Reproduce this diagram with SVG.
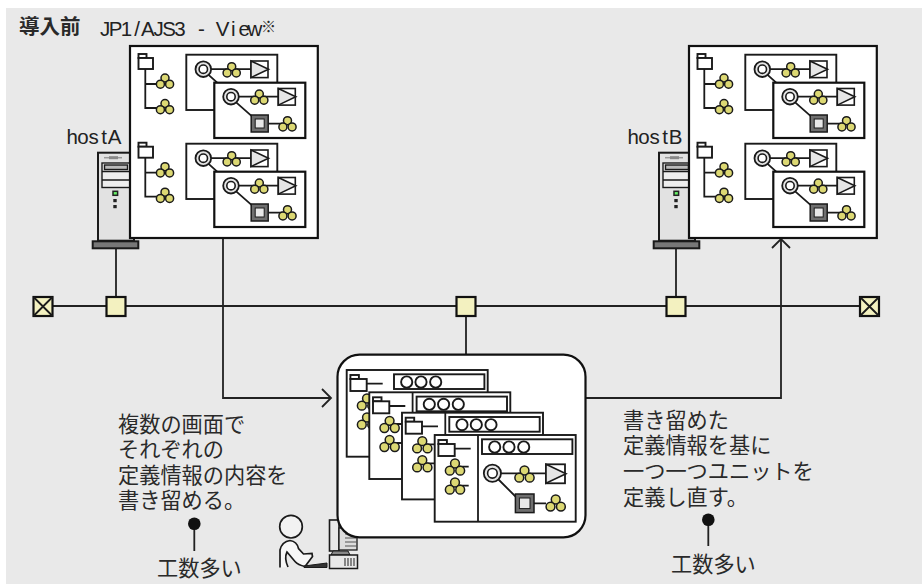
<svg xmlns="http://www.w3.org/2000/svg" xmlns:xlink="http://www.w3.org/1999/xlink" width="922" height="584" viewBox="0 0 922 584">
<style>
.s{fill:none;stroke:#1a1a1a;stroke-width:1.8}
.m{fill:none;stroke:#1a1a1a;stroke-width:1.8}
.c{stroke:#222;stroke-width:1.8;fill:none}
.w{fill:#fff;stroke:#1a1a1a;stroke-width:1.9}
.w2{fill:#fff;stroke:#111;stroke-width:2.2}
.y{fill:#dcd873;stroke:#1a1a1a;stroke-width:1.5}
.b{fill:#f3f1c0;stroke:#111;stroke-width:2.2}
.t{font-family:"Noto Sans CJK JP","Noto Sans",sans-serif;font-size:21.2px;fill:#2a2a2a;font-weight:400}
.e{font-family:"Liberation Sans",Arial,sans-serif;font-size:20.5px;fill:#222;text-anchor:middle}
</style>
<defs>
<g id="cl"><circle class="y" cx="0" cy="-4" r="4"/><circle class="y" cx="-4.6" cy="2.2" r="4"/><circle class="y" cx="4.6" cy="2.2" r="4"/></g>
<g id="cl2"><circle class="y" cx="0" cy="-3.5" r="4.4"/><circle class="y" cx="-5.2" cy="3.7" r="4.4"/><circle class="y" cx="5.2" cy="3.7" r="4.4"/></g>
<g id="fold"><rect class="w" x="0" y="-4" width="8" height="4"/><rect class="w" x="0" y="0" width="14.5" height="11"/></g>
<g id="ring"><circle fill="#e4e4e4" stroke="#1a1a1a" stroke-width="1.8" r="7.8"/><circle fill="#fff" stroke="#1a1a1a" stroke-width="1.6" r="4.2"/></g>
<g id="tri"><rect fill="#fff" stroke="#1a1a1a" stroke-width="1.6" x="0" y="0" width="17" height="16.6"/><path fill="#e6e6e6" stroke="#1a1a1a" stroke-width="1.6" d="M0,0L17.5,8.3L0,16.6Z"/></g>
<g id="sq"><rect fill="#6f6f6f" stroke="#1a1a1a" stroke-width="1.5" x="0" y="0" width="17" height="17"/><rect fill="#e8e8e8" stroke="#1a1a1a" stroke-width="1" x="4" y="4" width="9" height="9"/></g>
<g id="job">
<rect class="w" x="0" y="0" width="91" height="55.3"/>
<path class="s" d="M17,14.5H65M22,20L32,29"/>
<use xlink:href="#ring" x="17" y="14.5"/><use xlink:href="#cl" x="45.4" y="16"/><use xlink:href="#tri" x="64.7" y="6.3"/>
<rect class="w2" x="28" y="28" width="91" height="55.3"/>
<path class="s" d="M44.7,42H92M49,47L66,62M81,69H100"/>
<use xlink:href="#ring" x="44.7" y="42"/><use xlink:href="#cl" x="73" y="43.3"/><use xlink:href="#tri" x="92" y="33.8"/>
<use xlink:href="#sq" x="64.9" y="60.3"/><use xlink:href="#cl" x="101.2" y="70"/>
</g>
<g id="tree">
<path class="m" d="M15.3,10V62H27M15.3,38H27"/>
<use xlink:href="#fold" x="8.5" y="12"/>
<use xlink:href="#cl" x="35" y="36"/><use xlink:href="#cl" x="35" y="61.5"/>
</g>
<g id="panel">
<rect class="w2" x="0" y="0" width="187.8" height="192"/>
<use xlink:href="#tree"/><use xlink:href="#job" x="56.3" y="8.7"/>
<use xlink:href="#tree" y="88.7"/><use xlink:href="#job" x="56.3" y="97.7"/>
</g>
<g id="server">
<rect fill="#e2e2e2" stroke="#1a1a1a" stroke-width="2" x="98" y="152.7" width="36" height="88"/>
<path stroke="#999" stroke-width="1.5" d="M104,157.7H122"/>
<path stroke="#888" stroke-width="3" d="M109,157.7H118"/>
<rect fill="#eee" stroke="#1a1a1a" stroke-width="1.4" x="102" y="163" width="30" height="24.5"/>
<path fill="none" stroke="#1a1a1a" stroke-width="1.4" d="M102,171.5H132M102,180H132"/>
<rect fill="#bbb" stroke="#1a1a1a" stroke-width="1.4" x="104.5" y="165" width="23" height="4.5"/>
<rect fill="#6e6" stroke="#222" stroke-width="1.5" x="113" y="191.3" width="4.6" height="4"/>
<rect fill="#222" x="113.3" y="199" width="3.4" height="3.2"/><rect fill="#222" x="113.3" y="205" width="3.4" height="3.2"/>
<rect fill="#777" stroke="#1a1a1a" stroke-width="2" x="92.7" y="241.3" width="45.6" height="7"/>
</g>
<g id="win">
<rect class="w" x="0" y="0" width="141" height="86.7"/>
<rect class="w" x="47.3" y="4.3" width="90.4" height="14.7"/>
<circle class="w" cx="60" cy="12" r="5.6"/><circle class="w" cx="74.3" cy="12" r="5.6"/><circle class="w" cx="89" cy="12" r="5.6"/>
<path class="s" d="M20,13.7H36M20,31.7H34M20,50.7H34"/>
<rect class="w" x="3.7" y="5" width="8.5" height="4"/><rect class="w" x="3.7" y="9" width="16.3" height="12"/>
<use xlink:href="#cl2" x="20.3" y="32"/><use xlink:href="#cl2" x="20.3" y="51"/>
</g>
<path id="div" class="s" d="M43.3,0V86.7"/>
</defs>
<rect x="6" y="8" width="916" height="576" fill="#e9e9e9"/>
<text class="t" x="19" y="34" style="font-weight:700;font-size:20.5px">導入前</text>
<text class="e" y="35.5" x="105 115.7 126.4 137.1 147.8 158.5 169.2 179.9 190.6 201.3 212 222.7 233.4 244.1 254.8" xml:space="preserve">JP1/AJS3 - View</text>
<text class="t" x="261" y="32" style="font-size:15px">※</text>
<g id="connectors">
<path class="c" d="M43,306H869M116,248V306M676,248V306M466,306V355M223,238V398H331M585,398H781V239"/>
<path class="c" d="M322,389L331,398L322,407M772,248L781,239L790,248"/>
<path class="c" d="M194.3,524V551M708.3,520V546"/>
<circle cx="194.3" cy="523.7" r="6.3" fill="#111"/><circle cx="708.3" cy="519.7" r="6.3" fill="#111"/>
</g>
<g id="hostA"><text class="e" x="72.3 82.9 93.5 104.1 114.7" y="143.5">hostA</text><use xlink:href="#server"/><use xlink:href="#panel" x="130" y="46"/></g>
<g id="hostB"><text class="e" x="633.3 643.9 654.5 665.1 675.7" y="143.5">hostB</text><use xlink:href="#server" x="561"/><use xlink:href="#panel" x="689" y="46"/></g>
<g id="nw-term-l"><rect class="b" x="33.5" y="297" width="19" height="19"/><path class="s" d="M33.5,297L52.5,316M52.5,297L33.5,316"/></g>
<g id="nw-term-r"><rect class="b" x="860" y="297" width="19" height="19"/><path class="s" d="M860,297L879,316M879,297L860,316"/></g>
<g id="nw-1"><rect class="b" x="106.5" y="297" width="19" height="19"/></g>
<g id="nw-2"><rect class="b" x="456.5" y="297" width="19" height="19"/></g>
<g id="nw-3"><rect class="b" x="666.5" y="297" width="19" height="19"/></g>
<g id="user">
<circle cx="291" cy="526.7" r="11.3" fill="#f2f2f2" stroke="#1a1a1a" stroke-width="1.7"/>
<path fill="#f7f7f7" stroke="#1a1a1a" stroke-width="1.7" d="M280,567.5V550Q282,541.5 290,540.5Q297,541.5 298.5,548.5L303.5,554L312,553.5L312.5,556.5L305,566.5Q298,565 295,561.5L287,552Q284,558 288,567"/>
<path fill="#333" stroke="#1a1a1a" stroke-width="1" d="M304,566L327,563V567.5H304Z"/>
<rect fill="#e8e8e8" stroke="#1a1a1a" stroke-width="1.6" x="329.5" y="520" width="9.5" height="31"/>
<rect fill="#ddd" stroke="#1a1a1a" stroke-width="1.3" x="339" y="528" width="18" height="22"/>
<path stroke="#555" stroke-width="1.2" d="M345,534H357M345,538H357M345,542H357M345,546H357"/>
<path fill="#888" stroke="#1a1a1a" d="M333,551H348L350,555H331Z"/>
<rect fill="#e8e8e8" stroke="#1a1a1a" stroke-width="1.5" x="329.5" y="555" width="28" height="13.5"/>
<path stroke="#333" stroke-width="1.1" d="M345,558V566M348,558V566M351,558V566M354,558V566"/>
</g>
<g id="screen">
<rect class="w2" x="337.5" y="354.7" width="248" height="182.6" rx="22"/>
<use xlink:href="#win" x="346.7" y="370"/>
<use xlink:href="#win" x="369.3" y="392.3"/><use xlink:href="#div" x="369.3" y="392.3"/>
<use xlink:href="#win" x="402" y="412.7"/><use xlink:href="#div" x="402" y="412.7"/>
<use xlink:href="#win" x="434.7" y="435"/><use xlink:href="#div" x="434.7" y="435"/>
<path class="s" d="M500,473.3H546M498,479L516,497M533,503.3H546"/>
<g transform="translate(492.4,473.3)"><circle fill="#e4e4e4" stroke="#1a1a1a" stroke-width="1.8" r="8.6"/><circle fill="#fff" stroke="#1a1a1a" stroke-width="1.6" r="4.8"/></g>
<use xlink:href="#cl2" x="524.5" y="474"/>
<g transform="translate(546,464.3)"><rect fill="#fff" stroke="#1a1a1a" stroke-width="1.8" width="19" height="19"/><path fill="#e6e6e6" stroke="#1a1a1a" stroke-width="1.6" d="M0,0L20,9.5L0,19Z"/></g>
<g transform="translate(515.4,494)"><rect fill="#6f6f6f" stroke="#1a1a1a" stroke-width="1.5" width="18.6" height="18.6"/><rect fill="#e8e8e8" stroke="#1a1a1a" x="4" y="4" width="10.6" height="10.6"/></g>
<use xlink:href="#cl2" x="555.7" y="503"/>
</g>
<g id="labels">
<text class="t" x="118" y="431.5">複数の画面で</text>
<text class="t" x="118" y="457">それぞれの</text>
<text class="t" x="118" y="482.6">定義情報の内容を</text>
<text class="t" x="118" y="508">書き留める。</text>
<text class="t" x="157" y="575.5">工数多い</text>
<text class="t" x="623" y="427.5">書き留めた</text>
<text class="t" x="623" y="453">定義情報を基に</text>
<text class="t" x="623" y="479">一つ一つユニットを</text>
<text class="t" x="623" y="505">定義し直す。</text>
<text class="t" x="671" y="571.5">工数多い</text>
</g>
</svg>
